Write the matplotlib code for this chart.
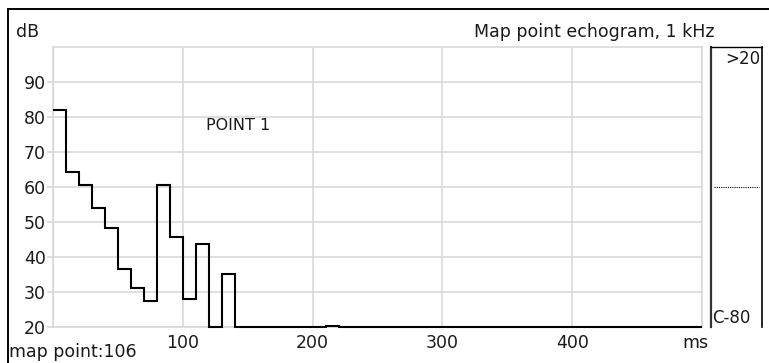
import matplotlib.pyplot as plt
from matplotlib.lines import Line2D

# echogram levels per 10 ms bin (dB, floor at 20)
bin_ms = 10
levels = [82, 64.4, 60.5, 53.9, 48.2, 36.7, 31.2, 27.4, 60.5, 45.7,
          28.1, 43.7, 20, 35.2, 20, 20, 20, 20, 20, 20,
          20, 20.4, 20, 20, 20, 20, 20, 20, 20, 20,
          20, 20, 20, 20, 20, 20, 20, 20, 20, 20,
          20, 20, 20, 20, 20, 20, 20, 20, 20, 20]
edges = [i * bin_ms for i in range(len(levels) + 1)]

x_ticks = [0, 100, 200, 300, 400, 500]
x_labels = ['', '100', '200', '300', '400', '']
y_ticks = [20, 30, 40, 50, 60, 70, 80, 90]
y_labels = [str(v) for v in y_ticks]

W, H = 769, 363
plt.rcParams['font.family'] = 'DejaVu Sans'
fs = 12.5
txt = '#1a1a1a'
grid_c = '#d6d6d6'

fig = plt.figure(figsize=(W / 100, H / 100), dpi=100)
fig.patch.set_facecolor('white')


def px_box(x0, y0, x1, y1):
    return [x0 / W, 1 - y1 / H, (x1 - x0) / W, (y1 - y0) / H]


ax = fig.add_axes(px_box(53, 47, 702, 327))
ax.set_xlim(0, 500)
ax.set_ylim(20, 100)
ax.set_xticks(x_ticks)
ax.set_xticklabels(x_labels)
ax.set_yticks(y_ticks)
ax.set_yticklabels(y_labels)
ax.grid(True, color=grid_c, linewidth=1.1)
for s in ax.spines.values():
    s.set_color(grid_c)
    s.set_linewidth(1.1)
ax.tick_params(axis='x', length=0, pad=5, labelsize=fs, labelcolor=txt)
ax.tick_params(axis='y', length=4, width=1.1, color=grid_c, pad=1,
               labelsize=fs, labelcolor=txt)

ax.stairs(levels, edges, baseline=None, color='black', linewidth=1.5,
          clip_on=False, zorder=3)
ax.text(0.235, 0.72, 'POINT 1', transform=ax.transAxes, fontsize=fs - 1,
        color=txt, ha='left', va='center')

# side scale panel
side = fig.add_axes(px_box(711, 47, 762, 327))
side.set_xticks([])
side.set_yticks([])
side.set_xlim(0, 1)
side.set_ylim(0, 1)
side.spines['bottom'].set_visible(False)
side.spines['left'].set_linewidth(1.6)
side.spines['left'].set_color('#333333')
side.spines['right'].set_linewidth(1.2)
side.spines['top'].set_linewidth(1.0)
side.plot([0.05, 0.95], [0.5, 0.5], color='black', linestyle=(0, (1, 1)),
          linewidth=0.8)
side.text(0.97, 0.99, '>20', fontsize=fs - 0.5, color=txt, ha='right',
          va='top')
side.text(0.03, 0.0, 'C-80', fontsize=fs - 0.5, color=txt, ha='left',
          va='bottom')

# outer frame, top and left edges
fig.add_artist(Line2D([8 / W, 1], [1 - 9 / H, 1 - 9 / H], color='black',
                      linewidth=1.4))
fig.add_artist(Line2D([8 / W, 8 / W], [0, 1 - 9 / H], color='black',
                      linewidth=1.4))

fig.text(16 / W, 1 - 32 / H, 'dB', fontsize=fs, color=txt, va='center')
fig.text(714 / W, 1 - 32 / H, 'Map point echogram, 1 kHz', fontsize=fs,
         color=txt, ha='right', va='center')
fig.text(695 / W, 1 - 343 / H, 'ms', fontsize=fs, color=txt, ha='center',
         va='center')
fig.text(9 / W, 1 - 352 / H, 'map point:106', fontsize=fs, color=txt,
         ha='left', va='center')

fig.savefig('out.png', dpi=100)
